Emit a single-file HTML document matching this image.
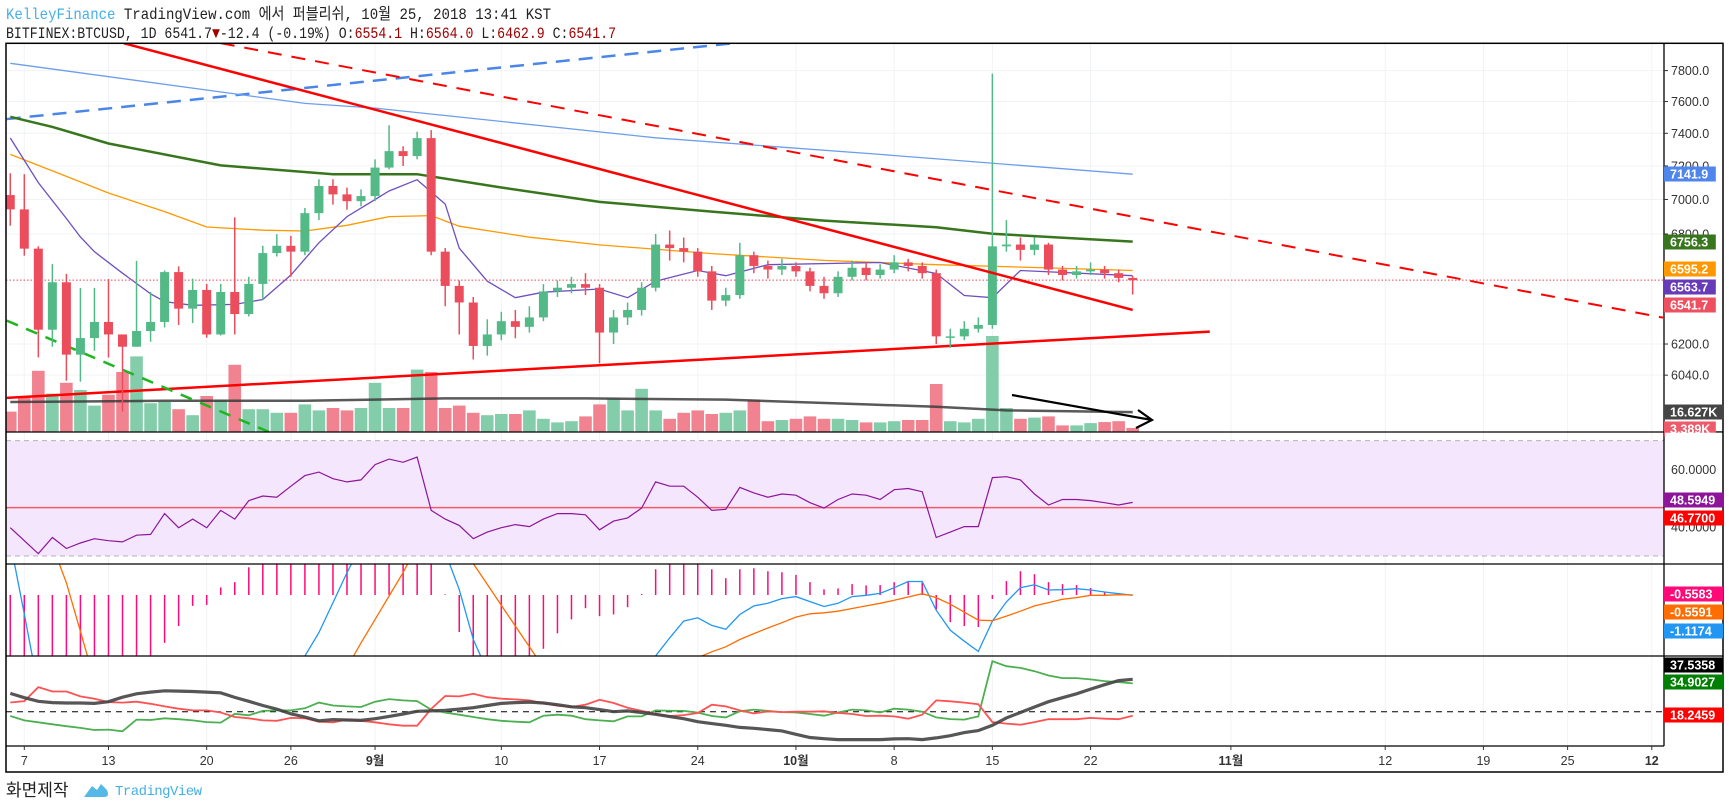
<!DOCTYPE html>
<html><head><meta charset="utf-8">
<style>
html,body{margin:0;padding:0;background:#fff;}
svg{display:block;font-family:"Liberation Sans","Noto Sans CJK KR",sans-serif;}
</style></head>
<body>
<svg id="chart" xmlns="http://www.w3.org/2000/svg" width="1729" height="809" viewBox="0 0 1729 809">
<defs>
<clipPath id="cMain"><rect x="6" y="43.3" width="1658" height="388.7"/></clipPath>
<clipPath id="cRsi"><rect x="6" y="432" width="1658" height="132"/></clipPath>
<clipPath id="cMacd"><rect x="6" y="564" width="1658" height="92"/></clipPath>
<clipPath id="cDmi"><rect x="6" y="656" width="1658" height="90"/></clipPath>
</defs>
<text x="6" y="19" font-family="Liberation Mono, Noto Sans CJK KR, monospace" font-size="16" textLength="545" lengthAdjust="spacingAndGlyphs" fill="#222"><tspan fill="#45b0e5">KelleyFinance</tspan> TradingView.com 에서 퍼블리쉬, 10월 25, 2018 13:41 KST</text>
<text x="6" y="38" font-family="Liberation Mono, monospace" font-size="16" textLength="610" lengthAdjust="spacingAndGlyphs" fill="#222">BITFINEX:BTCUSD, 1D 6541.7<tspan fill="#a00000">▼</tspan>-12.4 (-0.19%) O:<tspan fill="#a00000">6554.1</tspan> H:<tspan fill="#a00000">6564.0</tspan> L:<tspan fill="#a00000">6462.9</tspan> C:<tspan fill="#a00000">6541.7</tspan></text>
<g id="grid"></g>
<g id="main" clip-path="url(#cMain)"></g>
<g id="rsi" clip-path="url(#cRsi)"></g>
<g id="macd" clip-path="url(#cMacd)"></g>
<g id="dmi" clip-path="url(#cDmi)"></g>
<g id="frame"></g>
<g id="axes"></g>
<text x="6" y="796" font-size="17" fill="#222" font-family="Noto Sans CJK KR, sans-serif">화면제작</text>
<path d="M84 797 L92 786 L97 790 L101 784 L107 790 Q110 797 104 797 Z" fill="#55b9e8"/>
<text x="115" y="795" font-size="14" fill="#45b0e5" font-family="Liberation Mono, monospace" textLength="87">TradingView</text>
</svg>
<script>
// ---- data (day index: -1 = Aug 6, 0 = Aug 7 ... 79 = Oct 25) ----
const firstDay = -1;
const opens = [7026,6942,6717,6275,6530,6145,6231,6316,6250,6186,6268,6316,6586,6387,6488,6250,6477,6358,6521,6692,6733,
6700,6920,7080,7030,6990,7020,7190,7290,7260,7370,
6700,6510,6420,6190,6250,6320,6290,6340,6480,6500,
6520,6500,6260,6340,6380,6500,6740,6720,6700,6590,
6430,6460,6680,6620,6600,6620,6590,6510,6470,6560,
6610,6570,6600,6640,6620,6580,6240,6240,6280,6300,
6730,6740,6710,6740,6600,6570,6590,6600,6580,6554];
const closes = [6942,6717,6275,6530,6145,6231,6316,6250,6186,6268,6316,6586,6387,6488,6250,6477,6358,6521,6692,6733,6700,
6920,7080,7030,6990,7020,7190,7290,7260,7370,6700,
6510,6420,6190,6250,6320,6290,6340,6480,6500,6520,
6500,6260,6340,6380,6500,6740,6720,6700,6590,6430,
6460,6680,6620,6600,6620,6590,6510,6470,6560,6610,
6570,6600,6640,6620,6580,6240,6240,6280,6300,6730,
6740,6710,6740,6600,6570,6590,6600,6580,6554,6541.7];
const highs = [7156,7150,6730,6630,6576,6499,6499,6548,6250,6648,6477,6595,6618,6550,6521,6521,6896,6560,6733,6799,6790,
6950,7120,7120,7070,7060,7240,7450,7320,7410,7420,
6720,6540,6450,6330,6370,6380,6400,6520,6540,6560,
6580,6520,6380,6420,6530,6800,6820,6780,6720,6620,
6500,6750,6700,6650,6660,6640,6610,6560,6590,6650,
6640,6630,6680,6660,6640,6600,6280,6320,6340,7780,
6880,6780,6780,6750,6620,6620,6640,6620,6600,6564];
const lows = [6848,6677,6131,6186,6012,6007,6165,6130,5858,6186,6212,6287,6300,6310,6233,6245,6250,6345,6432,6673,6560,
6680,6880,6970,6940,6960,6990,7180,7200,7240,6680,
6400,6250,6120,6140,6220,6230,6260,6320,6450,6470,
6460,6100,6200,6300,6350,6480,6650,6640,6560,6380,
6400,6440,6580,6550,6570,6560,6480,6440,6450,6540,
6540,6550,6580,6590,6550,6200,6180,6220,6260,6280,
6700,6650,6680,6570,6540,6550,6570,6550,6530,6462.9];
const volumes = [17,30,51,32,41,35,22,31,50,63,24,25,19,14,30,27,56,19,19,16,16,23,
18,20,18,20,41,20,20,52,50,20,22,16,14,15,15,18,11,8,9,13,23,28,18,36,18,11,16,18,15,16,18,27,9,10,11,13,11,11,10,8,8,9,10,10,40,9,8,11,80,20,11,12,13,5.5,5.5,7.4,8.3,9,3.4];
const volMaDays = [-1,10,20,30,40,50,60,65,70,79];
const volMaVals = [25,26,26,28,28,27,23,21,18,16.6];
const ma200Days = [-1,20,25,45,61,79];
const ma200Vals = [7848,7588,7558,7372,7270,7150];
const ma100Days = [-1,2,6,14,22,28,34,41,49,57,65,69,79];
const ma100Vals = [7503,7440,7337,7203,7150,7150,7071,6986,6929,6877,6839,6801,6757];
const ma50Days = [-1,2,6,10,13,17,20,23,26,29,31,36,41,49,57,65,73,79];
const ma50Vals = [7270,7170,7038,6929,6840,6822,6817,6850,6900,6906,6845,6782,6738,6689,6651,6627,6609,6595];
const ma10Days = [-1,1,3,4,5,7,9,10,12,15,17,19,21,23,26,28,30,31,33,35,37,41,43,45,48,50,53,61,65,67,69,71,79];
const ma10Vals = [7371,7100,6889,6783,6700,6580,6467,6425,6405,6410,6436,6570,6750,6900,7050,7117,6973,6720,6536,6446,6476,6493,6446,6536,6595,6566,6627,6639,6578,6458,6446,6595,6566];
const rsiVals = [39.8,35.3,30.8,36.4,32.6,34.5,36,35.3,34.9,37.2,37.5,44.7,39.8,42.8,39.8,45.8,42.8,49.2,50.8,50.4,54.2,57.9,59.1,56.8,55.7,56.4,61.7,63.6,62.5,64.3,45.8,42.8,40.6,36,38.3,39.8,40.9,40.2,42.8,44.7,44.7,44.3,39.1,42.1,43.2,46.6,55.7,54.2,54.2,50.4,45.8,46.2,53.8,51.9,50.4,51.5,51.1,48.5,46.6,49.6,51.5,51.1,49.6,53,53.4,52.3,36.4,38.3,40.2,40.2,57.2,57.5,56.4,51.5,47.7,49.6,49.6,49.2,48.5,47.7,48.6];
const macdHist = [-2.5,-2.5,-2.5,-2.5,-2.5,-2.5,-2.5,-2.5,-2.5,-2.5,-2.5,-1.45,-0.94,-0.33,-0.3,0.23,0.39,0.84,1.5,1.5,1.5,1.5,1.5,1.5,1.5,1.5,1.5,1.5,1.5,1.5,1.5,0.02,-1.12,-2.5,-2.5,-2.5,-2.5,-2.5,-1.63,-1.16,-0.74,-0.4,
-0.64,-0.59,-0.37,0.03,0.78,1.2,1.2,1.2,0.78,0.51,0.78,0.81,0.72,0.69,0.61,0.39,0.17,0.2,0.33,0.29,0.3,0.39,0.42,0.38,-0.44,-0.82,-0.94,-0.97,-0.12,0.42,0.72,0.63,0.39,0.33,0.3,0.21,0.1,0.04,0.01];
const macdLine = [1.6,-0.58,-2.8,-3.5,-3.5,-3.5,-3.5,-3.5,-3.5,-3.5,-3.5,-3.5,-3.5,-3.5,-3.5,-3.5,-3.5,-3.5,-3.5,-3.5,-3.5,
-1.85,-1.14,-0.23,0.68,1.5,2.2,2.6,2.8,2.8,2.4,1.3,0.17,-1.35,-2.3,
-3,-3,-3,-3,-3,-3,-3,-3,-3,-3,-3,
-1.85,-1.3,-0.79,-0.69,-0.92,-1.04,-0.59,-0.33,-0.25,-0.11,-0.05,-0.2,-0.35,-0.25,-0.05,-0.01,0.05,0.22,0.41,0.41,-0.46,-1.07,-1.4,-1.71,-0.79,-0.21,0.22,0.31,0.15,0.16,0.19,0.15,0.09,0.04,-0.01];
const signalLine = [3.5,3.0,2.4,1.5,0.37,-1.1,-2.6,
-3.5,-3.5,-3.5,-3.5,-3.5,-3.5,-3.5,-3.5,-3.5,-3.5,-3.5,-3.5,-3.5,-3.5,-3.5,-3.5,-3.5,
-2.2,-1.45,-0.74,-0.03,0.68,1.5,2.2,2.3,1.8,0.95,0.32,-0.31,-0.94,-1.57,-2.2,
-2.8,-2.8,-2.8,-2.8,-2.8,-2.8,-2.8,-2.8,-2.8,-2.8,
-1.9,-1.72,-1.57,-1.35,-1.17,-1.0,-0.84,-0.67,-0.57,-0.54,-0.49,-0.41,-0.33,-0.25,-0.16,-0.06,0.04,-0.08,-0.28,-0.52,-0.76,-0.78,-0.64,-0.49,-0.33,-0.23,-0.13,-0.08,-0.01,-0.01,0.01,0];
const plusDI = [17.7,15.4,14.4,13.3,12.3,11.4,10.3,10.5,9.6,15.8,15.6,16.5,16,15.4,14.5,14.2,18.9,18.1,20.4,20.7,20.7,21.8,24.8,23.3,22.8,22.5,25.3,26.7,26,25.6,21.1,19.5,18.4,17.2,16,15.2,14.7,14.4,17.9,18.4,17.9,16,15.4,14.9,17.5,17.5,20.7,20.5,20.4,19.5,17.7,17,20.2,21.1,20.4,19.8,19.6,18.8,17.9,19.6,21.1,20.7,19.6,21.6,21.1,20,17,16.1,15.8,17.5,46.8,44.1,43.2,41.5,39.2,37.8,37.8,37.1,36.2,35.7,35];
const minusDI = [24.9,25.6,33,30.7,30.7,28.1,26.9,25.1,24.8,25.3,24.2,22.8,21.6,20.7,20.7,19.6,17.2,16.5,15.4,15.2,16.7,16.5,14.7,14.4,15.8,15.2,14.4,13.3,12.6,12.6,21.5,28.3,28.1,29.5,27.7,26.9,26.5,26,24.5,23.2,22.5,23.7,26.3,24.6,22.1,20.4,18.9,17.7,18.2,19.3,23.7,22.8,20.7,19.1,20.2,19.8,20,20,20.2,19.3,18.8,17.7,17.9,17.5,16.3,18.4,26,25.5,24.8,24,14.5,13.7,13.1,14.5,16.1,16,16,16.7,16.3,16,17.9];
const adxVals = [29.7,27.4,25.5,24.8,24.6,24.6,24.4,25.3,27.7,29.5,30.4,31.1,30.9,30.7,30.4,30,27.6,25.5,23.3,21.4,18.9,17.2,15.2,15.8,15.6,15.4,16.3,17.5,18.8,20.2,20.4,20.7,21.4,22.1,23.3,24.4,24.8,25.1,24.6,23.7,22.6,22.1,21.1,20,20.4,19.6,18.6,17.4,16.3,14.7,13.7,12.8,11.7,11.2,10.5,9.8,8,6.3,5.7,5.2,5.2,5.2,5.2,5.6,5.7,5.2,6.1,7.3,8.9,10,12.8,16.7,19.6,22.5,25.3,27.4,29.5,32,34.3,36.5,37.2];
const priceTicks = [7800,7600,7400,7200,7000,6800,6200,6040];
const tickLabels = ["7800.0","7600.0","7400.0","7200.0","7000.0","6800.0","6200.0","6040.0"];
const xLabelDays = [0,6,13,19,25,34,41,48,55,62,69,76,86,97,104,110,116];
const xLabels = ["7","13","20","26","9월","10","17","24","10월","8","15","22","11월","12","19","25","12"];
const xLabelBold = [0,0,0,0,1,0,0,0,1,0,0,0,1,0,0,0,1];

// ---- scales ----
const X = d => 24.3 + 14.03 * d;
const PY = p => 70.6 + 1191 * Math.log(7800 / p);
const VY = v => 432 - v * 1.2;
const RY = v => 556 - (v - 30) * 2.883;
const MY = v => 595 - v * 33;
const DY = v => 711.7 - (v - 20) * 1.886;
const NS = "http://www.w3.org/2000/svg";
function mk(parent, tag, attrs) {
  const e = document.createElementNS(NS, tag);
  for (const k in attrs) e.setAttribute(k, attrs[k]);
  parent.appendChild(e);
  return e;
}
const gGrid = document.getElementById('grid');
const gMain = document.getElementById('main');
const gRsi = document.getElementById('rsi');
const gMacd = document.getElementById('macd');
const gDmi = document.getElementById('dmi');
const gFrame = document.getElementById('frame');
const gAxes = document.getElementById('axes');

// grid
xLabelDays.forEach(d => {
  const l = mk(gGrid, 'line', {x1: X(d), x2: X(d), y1: 43, y2: 746, stroke: '#f0f3f6', 'stroke-width': 1});
  
  
});
priceTicks.forEach(p => {
  const l = mk(gGrid, 'line', {x1: 6, x2: 1664, y1: PY(p), y2: PY(p), stroke: '#f0f3f6', 'stroke-width': 1});
  
  
});

// volume bars
volumes.forEach((v, i) => {
  const d = firstDay + i;
  const up = closes[i] >= opens[i];
  const r = mk(gMain, 'rect', {x: X(d) - 6.3, y: VY(v), width: 12.6, height: 432 - VY(v), fill: up ? '#84cdab' : '#f18390'});
  
  
});
function poly(parent, days, vals, yf, attrs, name) {
  const pts = days.map((d, i) => X(d).toFixed(1) + ',' + yf(vals[i]).toFixed(1)).join(' ');
  const p = mk(parent, 'polyline', Object.assign({points: pts, fill: 'none'}, attrs));
  
  
  return p;
}
const allDays = closes.map((c, i) => firstDay + i);
poly(gMain, volMaDays, volMaVals, VY, {stroke: '#3c3c3c', 'stroke-width': 2.5, 'stroke-opacity': 0.85}, 'volume-ma-line');

// trend lines (drawings) defined by day/price anchors
function tline(d1, p1, d2, p2, color, w, dash, name) {
  const l = mk(gMain, 'line', {x1: X(d1), y1: PY(p1), x2: X(d2), y2: PY(p2), stroke: color, 'stroke-width': w});
  if (dash) l.setAttribute('stroke-dasharray', dash);
  
  
}
tline(-1.25, 5926, 84.5, 6265, '#ff0000', 2.5, null, 'support-trendline');
tline(-1.25, 7489, 50.5, 7981, '#4a86e8', 2.5, '14,9', 'blue-dashed-trendline');
tline(-1.25, 6323, 17.5, 5757, '#1fb51f', 2.5, '12,9', 'green-dashed-trendline');

// moving averages
poly(gMain, ma200Days, ma200Vals, PY, {stroke: '#6d9eeb', 'stroke-width': 1.3}, 'ma200-line');
poly(gMain, ma100Days, ma100Vals, PY, {stroke: '#38761d', 'stroke-width': 2.5}, 'ma100-line');
poly(gMain, ma50Days, ma50Vals, PY, {stroke: '#ff9900', 'stroke-width': 1.3}, 'ma50-line');
poly(gMain, ma10Days, ma10Vals, PY, {stroke: '#6f4fc0', 'stroke-width': 1.3}, 'ma10-line');

// last price line
const lp = mk(gMain, 'line', {x1: 6, x2: 1664, y1: PY(closes[closes.length - 1]), y2: PY(closes[closes.length - 1]), stroke: '#e8475a', 'stroke-width': 1, 'stroke-dasharray': '1.5,2'});



// candles
closes.forEach((c, i) => {
  const d = firstDay + i, o = opens[i];
  const up = c >= o;
  const col = up ? '#53b987' : '#eb4d5c';
  const w = mk(gMain, 'line', {x1: X(d), x2: X(d), y1: PY(highs[i]), y2: PY(lows[i]), stroke: col, 'stroke-width': 1.5});
  
  
  const top = PY(Math.max(o, c)), bot = PY(Math.min(o, c));
  const b = mk(gMain, 'rect', {x: X(d) - 4.5, y: top, width: 9, height: Math.max(1.5, bot - top), fill: col});
  
  
});
tline(7.1, 7981, 79, 6380, '#ff0000', 2.5, null, 'resistance-trendline');
tline(14, 7982, 116.8, 6339, '#ff0000', 2, '14,10', 'red-dashed-trendline');
// arrow
const ar = mk(gMain, 'path', {d: 'M1012 395 L1152 420 M1138 410 L1152 420 L1136 428', stroke: '#000', 'stroke-width': 2.2, fill: 'none'});



// RSI
const rb = mk(gRsi, 'rect', {x: 6, y: RY(70), width: 1658, height: RY(30) - RY(70), fill: '#f3e6fd'});


[70, 30].forEach(v => {
  const l = mk(gRsi, 'line', {x1: 6, x2: 1664, y1: RY(v), y2: RY(v), stroke: '#b8b0bc', 'stroke-width': 1, 'stroke-dasharray': '5,4'});
  
  
});
const rl = mk(gRsi, 'line', {x1: 6, x2: 1664, y1: RY(46.77), y2: RY(46.77), stroke: '#f45a6a', 'stroke-width': 1.5});


poly(gRsi, allDays, rsiVals, RY, {stroke: '#8e1599', 'stroke-width': 1.2}, 'rsi-line');

// MACD
macdHist.forEach((v, i) => {
  const d = firstDay + i;
  const l = mk(gMacd, 'line', {x1: X(d), x2: X(d), y1: MY(0), y2: MY(v), stroke: '#ff0a78', 'stroke-width': 1.5});
  
  
});
poly(gMacd, allDays, macdLine, MY, {stroke: '#2196f3', 'stroke-width': 1.3}, 'macd-line');
poly(gMacd, allDays, signalLine, MY, {stroke: '#ff6d00', 'stroke-width': 1.3}, 'macd-signal-line');

// DMI
const dl = mk(gDmi, 'line', {x1: 6, x2: 1664, y1: DY(20), y2: DY(20), stroke: '#000', 'stroke-width': 1, 'stroke-dasharray': '6,5'});


poly(gDmi, allDays, plusDI, DY, {stroke: '#4caf50', 'stroke-width': 1.8}, 'plus-di-line');
poly(gDmi, allDays, minusDI, DY, {stroke: '#ff5252', 'stroke-width': 1.8}, 'minus-di-line');
poly(gDmi, allDays, adxVals, DY, {stroke: '#444', 'stroke-width': 3.2, 'stroke-opacity': 0.9}, 'adx-line');

// frame
function fl(x1, y1, x2, y2, name, w) {
  const l = mk(gFrame, 'line', {x1, y1, x2, y2, stroke: '#000', 'stroke-width': w || 1.3});
  
  
}
const fr = mk(gFrame, 'rect', {x: 6, y: 43.3, width: 1717, height: 728.7, fill: 'none', stroke: '#000', 'stroke-width': 1.5});


fl(1664, 43, 1664, 746, 'price-axis-line');
fl(6, 432, 1723, 432, 'rsi-pane-separator');
fl(6, 564, 1723, 564, 'macd-pane-separator');
fl(6, 656, 1723, 656, 'dmi-pane-separator');
fl(6, 746, 1664, 746, 'time-axis-line');

// price axis labels
priceTicks.forEach((p, i) => {
  const y = PY(p);
  const t = mk(gAxes, 'line', {x1: 1664, x2: 1668, y1: y, y2: y, stroke: '#333'});
  
  
  const tx = mk(gAxes, 'text', {x: 1671, y: y + 4.5, 'font-size': 12.5, fill: '#333'});
  tx.textContent = tickLabels[i];
  
  
});
const rt = mk(gAxes, 'text', {x: 1671, y: RY(60) + 4.5, 'font-size': 12.5, fill: '#333'});
rt.textContent = '60.0000';


const rt2 = mk(gAxes, 'text', {x: 1671, y: RY(40) + 4.5, 'font-size': 12.5, fill: '#333'});
rt2.textContent = '40.0000';



// time axis
xLabelDays.forEach((d, i) => {
  const t = mk(gAxes, 'line', {x1: X(d), x2: X(d), y1: 746, y2: 750, stroke: '#333'});
  
  
  const tx = mk(gAxes, 'text', {x: X(d), y: 765, 'font-size': 12.5, fill: '#333', 'text-anchor': 'middle', 'font-weight': xLabelBold[i] ? 'bold' : 'normal'});
  tx.textContent = xLabels[i];
  
  
});

// badges
const badgeText = ["7141.9","6756.3","6595.2","6563.7","6541.7","16.627K","3.389K","48.5949","46.7700","-0.5583","-0.5591","-1.1174","37.5358","34.9027","18.2459"];
const badgeY = [174,242,269,287,305,412,429,500,518,594,612,631,665,682,715];
const badgeColor = ["#4f86ec","#38761d","#ff9800","#673ab7","#ef5060","#454545","#ee5a6a","#8e1599","#ff0000","#ff0a78","#ff6d00","#2196f3","#000000","#008000","#ff0000"];
badgeText.forEach((s, i) => {
  const w = s.length * 7.3 + 8;
  const r = mk(gAxes, 'rect', {x: 1664, y: badgeY[i] - 7.5, width: w, height: 15, fill: badgeColor[i]});
  
  
  const t = mk(gAxes, 'text', {x: 1670, y: badgeY[i] + 4.5, 'font-size': 12.5, 'font-weight': 'bold', fill: '#fff'});
  t.textContent = s;
  
  
});
// cover overflow of volume badge below main pane separator
const cov = mk(gAxes, 'rect', {x: 1665, y: 432.7, width: 57, height: 6, fill: '#fff'});


fl(1664, 432, 1723, 432, 'rsi-pane-separator-right');
</script>
</body></html>
